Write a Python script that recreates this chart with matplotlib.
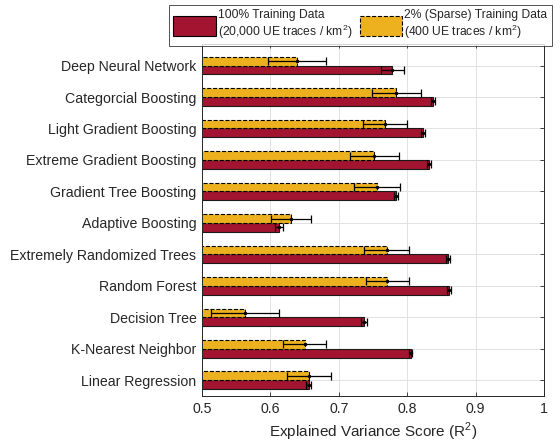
import numpy as np
import matplotlib
matplotlib.use('Agg')
import matplotlib.pyplot as plt
from matplotlib.patches import Patch

plt.rcParams['font.family'] = ['Liberation Sans', 'DejaVu Sans']
plt.rcParams['mathtext.fontset'] = 'custom'
plt.rcParams['mathtext.rm'] = 'Liberation Sans'

# Models, listed top to bottom as they appear on the chart
models = ['Deep Neural Network', 'Categorcial Boosting', 'Light Gradient Boosting',
          'Extreme Gradient Boosting', 'Gradient Tree Boosting', 'Adaptive Boosting',
          'Extremely Randomized Trees', 'Random Forest', 'Decision Tree',
          'K-Nearest Neighbor', 'Linear Regression']

# Explained variance score with 100% of the training data
full_mean = [0.778, 0.838, 0.823, 0.832, 0.784, 0.613, 0.860, 0.861, 0.737, 0.805, 0.656]
full_err = [0.017, 0.003, 0.003, 0.003, 0.003, 0.006, 0.003, 0.003, 0.004, 0.002, 0.004]

# Explained variance score with 2% (sparse) training data
sparse_mean = [0.639, 0.784, 0.767, 0.752, 0.756, 0.630, 0.770, 0.771, 0.563, 0.650, 0.656]
sparse_err = [0.042, 0.036, 0.032, 0.036, 0.034, 0.029, 0.033, 0.031, 0.050, 0.031, 0.032]

x_ticks = [0.5, 0.6, 0.7, 0.8, 0.9, 1.0]
x_tick_labels = ['0.5', '0.6', '0.7', '0.8', '0.9', '1']

red = '#A2142F'
yellow = '#EDB120'
dark = '#262626'

fig = plt.figure(figsize=(5.6, 4.45), dpi=100)
ax = fig.add_axes([0.3607, 0.1101, 0.6107, 0.7921])

pos = np.arange(len(models))[::-1]
h = 0.28

ax.barh(pos - h / 2, full_mean, height=h, left=0, color=red, edgecolor='#1a1a1a',
        linewidth=0.8, zorder=2)
ax.barh(pos + h / 2, sparse_mean, height=h, left=0, color=yellow, edgecolor='black',
        linewidth=0.8, linestyle='--', zorder=2)

ax.errorbar(full_mean, pos - h / 2, xerr=full_err, fmt='.', color='black',
            markersize=3, elinewidth=0.9, capsize=3.2, capthick=0.9, zorder=3)
ax.errorbar(sparse_mean, pos + h / 2, xerr=sparse_err, fmt='.', color='black',
            markersize=3, elinewidth=0.9, capsize=3.2, capthick=0.9, zorder=3)

ax.set_xlim(0.5, 1.0)
ax.set_ylim(-0.5, 10.7)
ax.set_xticks(x_ticks)
ax.set_xticklabels(x_tick_labels)
ax.set_yticks(pos)
ax.set_yticklabels(models)

ax.grid(True, color='#e2e2e2', linewidth=0.7, zorder=0)
ax.set_axisbelow(True)
ax.tick_params(direction='in', top=True, right=True, length=3, width=0.6,
               colors=dark, labelsize=10.2, pad=4)
for s in ax.spines.values():
    s.set_color(dark)
    s.set_linewidth(0.7)

ax.set_xlabel('Explained Variance Score (R$^\\mathregular{2}$)', fontsize=11,
              color=dark, labelpad=4)

handles = [Patch(facecolor=red, edgecolor='black', linewidth=0.8),
           Patch(facecolor=yellow, edgecolor='black', linewidth=0.8, linestyle='--')]
labels = ['100% Training Data\n(20,000 UE traces / km$^\\mathregular{2}$)',
          '2% (Sparse) Training Data\n(400 UE traces / km$^\\mathregular{2}$)']
leg = fig.legend(handles, labels, loc='upper left', bbox_to_anchor=(169 / 560, 1 - 5 / 445),
                 ncol=2, fontsize=8.7, frameon=True, fancybox=False, borderpad=0.35,
                 handlelength=3.5, handleheight=2.1, handletextpad=0.2,
                 columnspacing=0.6, borderaxespad=0, labelspacing=0.2)
leg.get_frame().set_edgecolor(dark)
leg.get_frame().set_linewidth(0.7)
for t in leg.get_texts():
    t.set_color(dark)
    t.set_linespacing(1.15)

fig.savefig('out.png', dpi=100)
